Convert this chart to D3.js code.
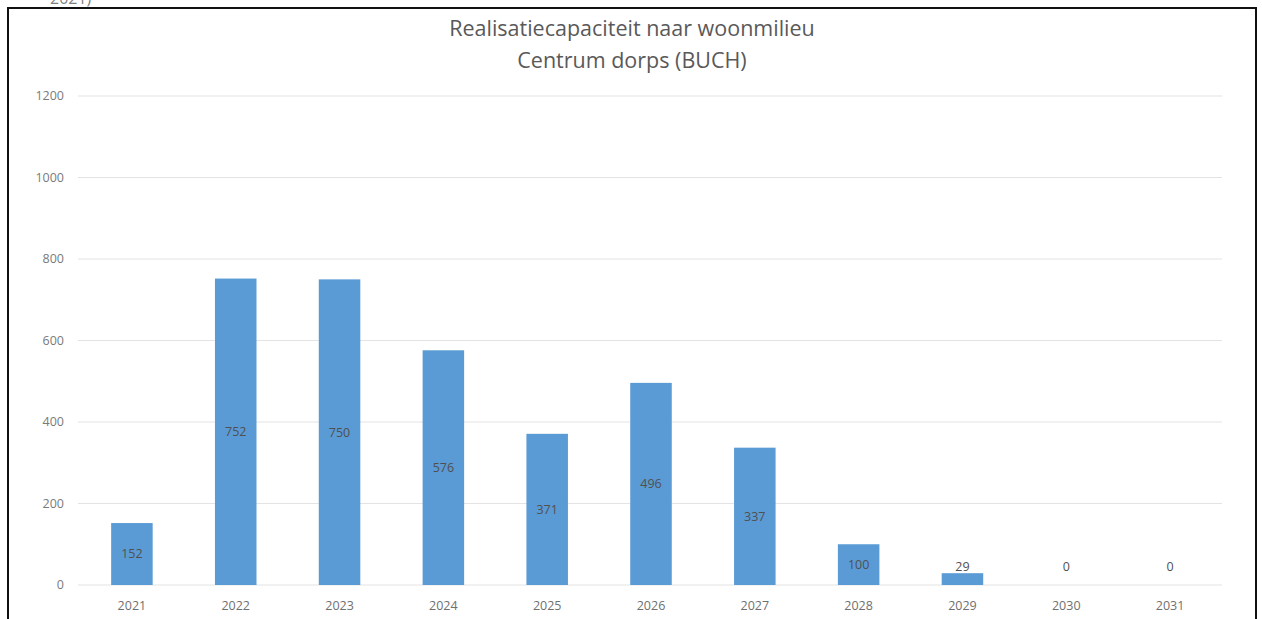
<!DOCTYPE html>
<html>
<head>
<meta charset="utf-8">
<script src="https://cdn.jsdelivr.net/npm/d3@7"></script>
<style>
    body { margin: 0; background: #fff; }
    svg { display: block; }
    text { font-family: "Open Sans", sans-serif; }
</style>
</head>
<body>
<svg id="chart"></svg>
<script>
// data
var years = ["2021", "2022", "2023", "2024", "2025", "2026", "2027", "2028", "2029", "2030", "2031"];
var values = [152, 752, 750, 576, 371, 496, 337, 100, 29, 0, 0];
var yTicks = [0, 200, 400, 600, 800, 1000, 1200];
var titleLines = ["Realisatiecapaciteit naar woonmilieu", "Centrum dorps (BUCH)"];

var width = 1262, height = 619;
var svg = d3.select("#chart").attr("width", width).attr("height", height);

// caption of the page above the chart, mostly cut off
svg.append("text")
    .attr("x", 50).attr("y", 4)
    .style("font-size", "16px")
    .style("fill", "#7f7f7f")
    .text("2021)");

// frame round the chart
svg.append("rect")
    .attr("x", 8).attr("y", 8)
    .attr("width", 1248).attr("height", 640)
    .style("fill", "none")
    .style("stroke", "#111")
    .style("stroke-width", 2);

var x = d3.scaleBand()
    .domain(years)
    .range([80, 1222])
    .paddingInner(0.6)
    .paddingOuter(0.3);

var y = d3.scaleLinear()
    .domain([0, 1200])
    .range([585, 96]);

// gridlines
svg.append("g")
    .selectAll("line")
    .data(yTicks)
    .enter().append("line")
    .attr("x1", 78).attr("x2", 1222)
    .attr("y1", function(d) { return y(d); })
    .attr("y2", function(d) { return y(d); })
    .style("stroke", "#e3e3e3")
    .style("stroke-width", 1.2);

// y axis labels
svg.append("g")
    .selectAll("text")
    .data(yTicks)
    .enter().append("text")
    .attr("x", 64)
    .attr("y", function(d) { return y(d); })
    .attr("dy", "0.35em")
    .attr("text-anchor", "end")
    .style("font-size", "12.5px")
    .style("fill", "#7a7a7a")
    .text(function(d) { return d; });

// x axis labels
svg.append("g")
    .selectAll("text")
    .data(years)
    .enter().append("text")
    .attr("x", function(d) { return x(d) + x.bandwidth() / 2; })
    .attr("y", 606)
    .attr("dy", "0.35em")
    .attr("text-anchor", "middle")
    .style("font-size", "12.5px")
    .style("fill", "#6f6f6f")
    .text(function(d) { return d; });

// bars
svg.append("g")
    .selectAll("rect")
    .data(values)
    .enter().append("rect")
    .attr("x", function(d, i) { return x(years[i]); })
    .attr("y", function(d) { return y(d); })
    .attr("width", x.bandwidth())
    .attr("height", function(d) { return y(0) - y(d); })
    .style("fill", "#5b9bd5");

// value labels, centred in the bar but kept above the axis
svg.append("g")
    .selectAll("text")
    .data(values)
    .enter().append("text")
    .attr("x", function(d, i) { return x(years[i]) + x.bandwidth() / 2; })
    .attr("y", function(d) { return Math.min(y(d / 2), y(0) - 18); })
    .attr("dy", "0.35em")
    .attr("text-anchor", "middle")
    .style("font-size", "12.5px")
    .style("fill", "#505050")
    .text(function(d) { return d; });

// title
svg.append("g")
    .selectAll("text")
    .data(titleLines)
    .enter().append("text")
    .attr("x", 632)
    .attr("y", function(d, i) { return 28 + i * 32; })
    .attr("dy", "0.35em")
    .attr("text-anchor", "middle")
    .style("font-size", "21.5px")
    .style("fill", "#595959")
    .text(function(d) { return d; });
</script>
</body>
</html>
